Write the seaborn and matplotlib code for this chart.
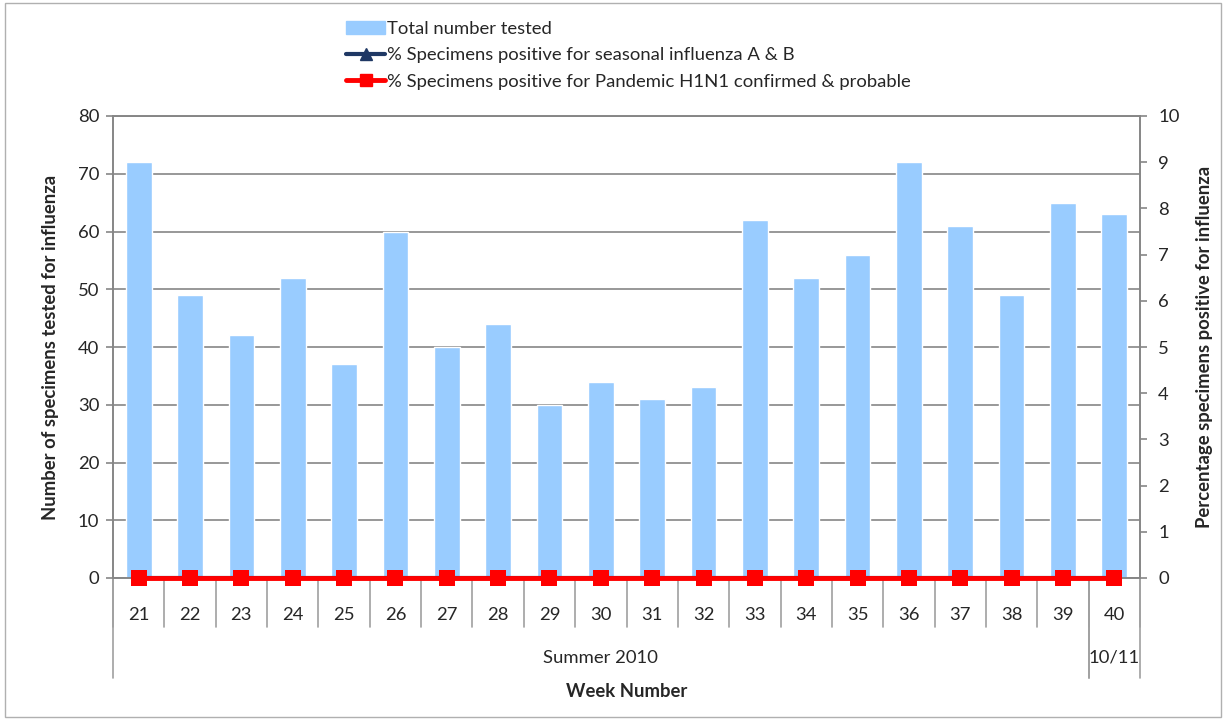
import numpy as np
import pandas as pd
import seaborn as sns
import matplotlib.pyplot as plt
from matplotlib.patches import Patch, Rectangle
from matplotlib.lines import Line2D
import matplotlib.transforms as mtransforms

weeks = ['21', '22', '23', '24', '25', '26', '27', '28', '29', '30',
         '31', '32', '33', '34', '35', '36', '37', '38', '39', '40']
total_tested = [72, 49, 42, 52, 37, 60, 40, 44, 30, 34,
                31, 33, 62, 52, 56, 72, 61, 49, 65, 63]
pct_seasonal = [0] * 20
pct_h1n1 = [0] * 20
season_groups = ['Summer 2010', '10/11']
season_sizes = [19, 1]

sns.set_style('white')
plt.rcParams['font.family'] = ['Lato', 'DejaVu Sans']
fs = 13.3

df = pd.DataFrame({'week': weeks, 'tested': total_tested,
                   'seasonal': pct_seasonal, 'h1n1': pct_h1n1})
df['pos'] = np.arange(len(df))

fig = plt.figure(figsize=(12.26, 7.2), dpi=100)
ax = fig.add_axes([113/1226, 1-578/720, 1027/1226, 462/720])
grey = '#868686'

sns.barplot(data=df, x='week', y='tested', color='#99CCFF', saturation=1,
            width=0.5, ax=ax, zorder=2)
ax.set_ylim(0, 80)
ax.set_yticks(range(0, 81, 10))
ax.set_xlim(-0.5, 19.5)
ax.grid(axis='y', color=grey, lw=1.2, zorder=0)
ax.set_axisbelow(True)
for s in ax.spines.values():
    s.set_color(grey)
    s.set_linewidth(1.2)
ax.tick_params(axis='y', length=5, color=grey, width=1.2, labelsize=fs, pad=5, left=True)
ax.tick_params(axis='x', length=0, labelsize=fs, pad=21)
ax.set_xlabel('')
ax.set_ylabel('Number of specimens tested for influenza', fontsize=fs, fontweight='bold')
ax.yaxis.set_label_coords(-0.053, 0.5)

ax2 = ax.twinx()
sns.lineplot(data=df, x='pos', y='seasonal', color='#1F3864', marker='^',
             markersize=10, lw=3, ax=ax2, clip_on=False, zorder=3)
sns.lineplot(data=df, x='pos', y='h1n1', color='#FF0000', marker='s',
             markersize=11, markeredgewidth=0, lw=3.5, ax=ax2, clip_on=False, zorder=4)
ax2.set_ylim(0, 10)
ax2.set_yticks(range(0, 11))
ax2.set_xlim(-0.5, 19.5)
for s in ax2.spines.values():
    s.set_color(grey)
    s.set_linewidth(1.2)
ax2.tick_params(axis='y', length=5, color=grey, width=1.2, labelsize=fs, pad=8, right=True)
ax2.set_ylabel('Percentage specimens positive for influenza', fontsize=fs, fontweight='bold')
ax2.yaxis.set_label_coords(1.055, 0.5)
ax2.set_xlabel('')

# category box lines below axis
trans = mtransforms.blended_transform_factory(ax.transData, ax.transAxes)
for i in range(len(weeks) + 1):
    ax.plot([i - 0.5, i - 0.5], [0, -0.106], color='#A0A0A0', lw=1.2,
            transform=trans, clip_on=False)
start = 0
for name, n in zip(season_groups, season_sizes):
    for edge in (start, start + n):
        ax.plot([edge - 0.5, edge - 0.5], [0, -0.216], color='#A0A0A0', lw=1.2,
                transform=trans, clip_on=False)
    ax.text(start + n / 2 - 0.5, -0.173, name, transform=trans, ha='center',
            va='center', fontsize=fs)
    start += n
ax.text(0.5, -0.245, 'Week Number', transform=ax.transAxes, ha='center',
        va='center', fontsize=fs, fontweight='bold')

handles = [Patch(color='#99CCFF'),
           Line2D([], [], color='#1F3864', marker='^', lw=3, markersize=9),
           Line2D([], [], color='#FF0000', marker='s', lw=3.5, markersize=9)]
labels = ['Total number tested',
          '% Specimens positive for seasonal influenza A & B',
          '% Specimens positive for Pandemic H1N1 confirmed & probable']
fig.legend(handles, labels, loc='upper left', bbox_to_anchor=(337/1226, 1 - 12/720),
           frameon=False, fontsize=fs, handlelength=2.1, handletextpad=0.1,
           labelspacing=0.55, borderpad=0)

fig.patches.append(Rectangle((0.004, 0.004), 0.992, 0.992, transform=fig.transFigure,
                             fill=False, edgecolor='#B0B0B0', lw=1))
fig.savefig('out.png', dpi=100)
